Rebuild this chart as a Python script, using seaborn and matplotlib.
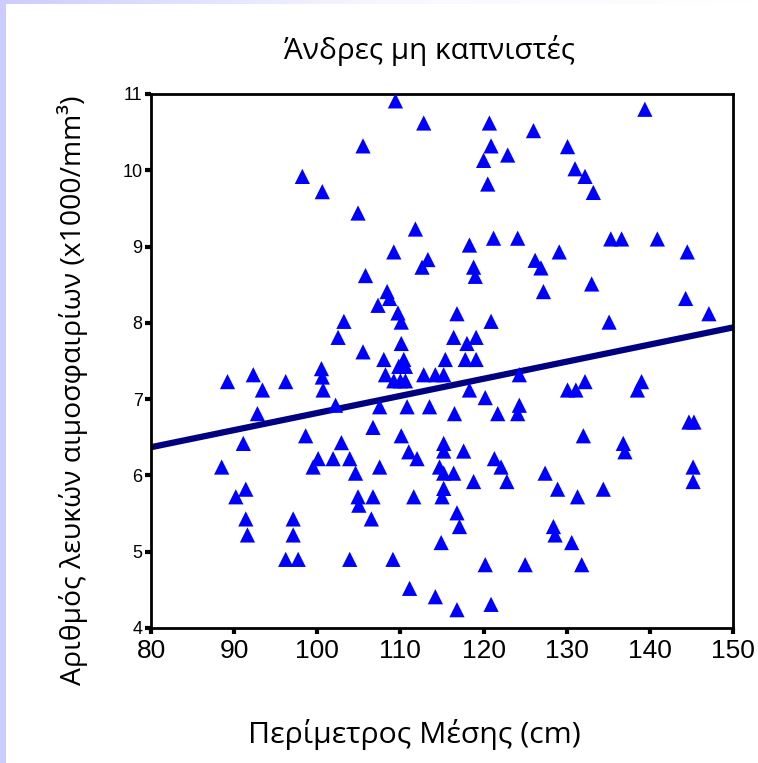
import numpy as np
import pandas as pd
import matplotlib
matplotlib.use("Agg")
import matplotlib.pyplot as plt
from matplotlib.colors import LinearSegmentedColormap
from matplotlib.patches import Rectangle
import seaborn as sns

# ---- data ----
waist = [
    98.2, 100.6, 109.4, 112.8, 120.7, 105.5, 120.9, 122.9, 120.0, 120.5,
    104.9, 111.8, 118.3, 121.2, 124.1, 109.2, 113.3, 112.6, 118.8, 119.0,
    105.8, 108.4, 108.7, 107.3, 109.7, 110.1, 116.8, 120.9, 103.2, 102.5,
    110.1, 116.4, 118.0, 119.1, 105.5,
    139.4, 126.0, 130.1, 131.0, 132.2, 133.2, 135.3, 136.6, 140.9, 144.5,
    129.1, 126.2, 126.9, 127.2, 133.0, 144.3, 147.1, 135.1,
    89.2, 92.3, 93.4, 96.2, 100.5, 100.6, 100.7, 102.2, 92.8, 98.6,
    91.1, 88.5, 100.1, 99.5, 101.9, 91.4, 90.2, 91.4, 91.6, 97.1,
    97.1, 96.2, 97.7,
    108.0, 110.4, 109.8, 110.6, 115.4, 117.8, 119.1, 108.2, 109.2, 110.0,
    110.6, 112.8, 114.2, 115.2, 124.3, 118.3, 120.2, 107.5, 110.8, 113.5,
    116.5, 121.7, 124.3, 124.1, 106.7, 110.1, 102.9, 115.2, 115.2, 111.0,
    112.0, 117.6, 103.9, 104.6, 107.5, 114.7, 115.2, 116.4, 121.3, 122.1,
    122.8, 118.8, 115.2, 115.0, 104.9, 105.0, 106.7, 111.6, 106.5, 116.8,
    117.1, 114.9, 103.9, 109.1, 120.2, 125.0, 111.1, 114.2, 116.8, 120.9,
    130.1, 131.1, 132.2, 139.0, 138.5, 144.7, 145.3, 132.0, 136.8, 137.0,
    127.4, 128.9, 131.3, 134.4, 145.2, 145.2, 128.4, 128.6, 130.6, 131.8,
]
wbc = [
    9.92, 9.72, 10.91, 10.62, 10.62, 10.32, 10.32, 10.20, 10.13, 9.82,
    9.44, 9.23, 9.02, 9.11, 9.11, 8.93, 8.83, 8.73, 8.73, 8.61,
    8.62, 8.41, 8.32, 8.23, 8.13, 8.01, 8.12, 8.02, 8.02, 7.81,
    7.73, 7.81, 7.73, 7.81, 7.62,
    10.80, 10.52, 10.31, 10.02, 9.92, 9.71, 9.10, 9.10, 9.10, 8.93,
    8.93, 8.82, 8.72, 8.41, 8.51, 8.32, 8.12, 8.01,
    7.23, 7.32, 7.12, 7.23, 7.40, 7.29, 7.12, 6.92, 6.81, 6.52,
    6.42, 6.11, 6.22, 6.11, 6.22, 5.82, 5.72, 5.43, 5.22, 5.43,
    5.22, 4.90, 4.90,
    7.52, 7.52, 7.43, 7.43, 7.52, 7.52, 7.52, 7.32, 7.24, 7.24,
    7.24, 7.32, 7.32, 7.32, 7.32, 7.12, 7.02, 6.90, 6.90, 6.90,
    6.81, 6.81, 6.92, 6.81, 6.63, 6.52, 6.43, 6.42, 6.32, 6.31,
    6.22, 6.32, 6.22, 6.03, 6.11, 6.11, 6.03, 6.03, 6.22, 6.11,
    5.92, 5.92, 5.83, 5.72, 5.72, 5.61, 5.72, 5.72, 5.43, 5.51,
    5.33, 5.12, 4.90, 4.90, 4.83, 4.83, 4.52, 4.41, 4.24, 4.31,
    7.12, 7.12, 7.23, 7.23, 7.12, 6.70, 6.70, 6.52, 6.42, 6.31,
    6.03, 5.82, 5.72, 5.82, 6.11, 5.92, 5.33, 5.22, 5.12, 4.83,
]
fit_x = [80, 150]
fit_y = [6.37, 7.94]
x_ticks = [80, 90, 100, 110, 120, 130, 140, 150]
y_ticks = [4, 5, 6, 7, 8, 9, 10, 11]

title = "Άνδρες μη καπνιστές"
xlabel = "Περίμετρος Μέσης (cm)"
ylabel = "Αριθμός λευκών αιμοσφαιρίων (x1000/mm³)"

df = pd.DataFrame({"waist": waist, "wbc": wbc})
fit = pd.DataFrame({"x": fit_x, "y": fit_y})

sns.set_theme(style="white")
plt.rcParams["font.family"] = ["Liberation Sans", "DejaVu Sans"]
plt.rcParams["text.color"] = "black"
plt.rcParams["xtick.color"] = "black"
plt.rcParams["ytick.color"] = "black"

W, H = 758, 763
fig = plt.figure(figsize=(W / 100, H / 100), dpi=100)
fig.patch.set_facecolor("white")

# decorative borders
fig.patches.append(Rectangle((0, 0), 6 / W, 1, transform=fig.transFigure,
                             facecolor="#CCCCFF", edgecolor="none", zorder=0))
gax = fig.add_axes([0, 1 - 4 / H, 1, 4 / H])
cmap = LinearSegmentedColormap.from_list("g", ["#CCCCFF", "#F7F7FF", "#FFFFFF"])
gax.imshow(np.linspace(0, 1, 256)[None, :], aspect="auto", cmap=cmap,
           extent=[0, 1, 0, 1])
gax.set_axis_off()

ax = fig.add_axes([151 / W, 1 - 628 / H, (733 - 151) / W, (628 - 94) / H])

sns.scatterplot(data=df, x="waist", y="wbc", marker="^", s=120,
                color="#0000FF", edgecolor="none", ax=ax, zorder=3)
sns.lineplot(data=fit, x="x", y="y", color="#000080", linewidth=4.5, ax=ax,
             zorder=2)

ax.set_xlim(80, 150)
ax.set_ylim(4, 11)
ax.set_xticks(x_ticks)
ax.set_yticks(y_ticks)
ax.set_xticklabels([str(v) for v in x_ticks], fontsize=19, color="black")
ax.set_yticklabels([str(v) for v in y_ticks], fontsize=13, color="black")
ax.tick_params(axis="both", direction="out", length=4, width=3, color="black",
               bottom=True, left=True)
ax.tick_params(axis="x", pad=4)
ax.tick_params(axis="y", pad=2)
for s in ax.spines.values():
    s.set_color("black")
    s.set_linewidth(2)
    s.set_visible(True)

ax.set_xlabel("")
ax.set_ylabel("")
fig.text(414 / W, 1 - 735 / H, xlabel, ha="center", va="center",
         fontsize=21.8, color="black", family=["Open Sans", "DejaVu Sans"])
fig.text(73 / W, 1 - 390 / H, ylabel, ha="center", va="center",
         rotation=90, fontsize=20.4, color="black",
         family=["Open Sans", "DejaVu Sans"])
fig.text(429 / W, 1 - 51 / H, title, ha="center", va="center",
         fontsize=21.4, color="black", family=["Open Sans", "DejaVu Sans"])

fig.savefig("out.png", dpi=100)
